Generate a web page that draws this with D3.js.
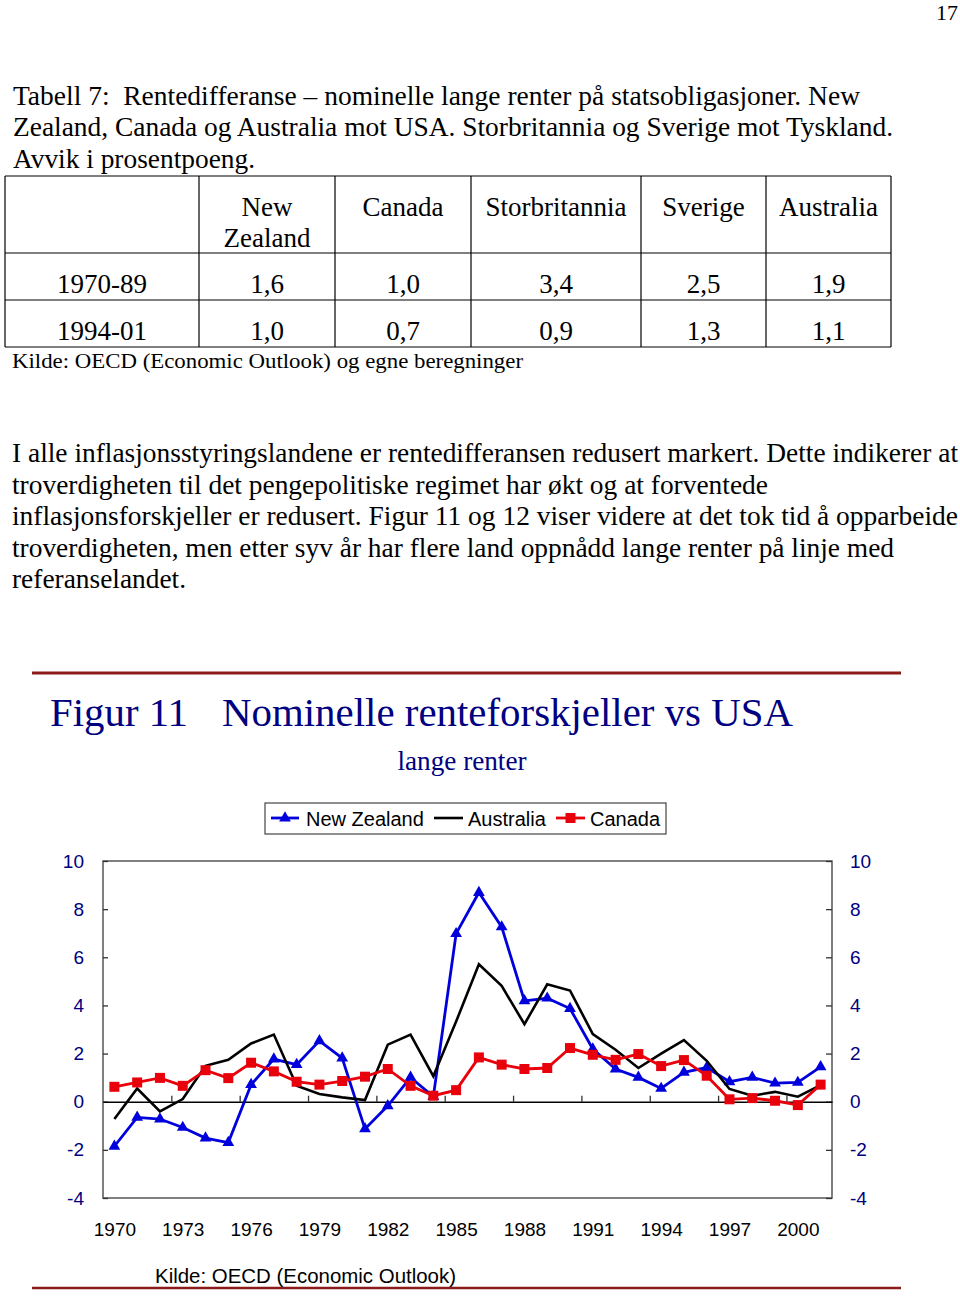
<!DOCTYPE html>
<html><head><meta charset="utf-8">
<script src="https://cdn.jsdelivr.net/npm/d3@7"></script>
<style>body{margin:0;background:#fff}svg{display:block;background:#fff}text{white-space:pre}</style>
</head><body><svg id="c" width="960" height="1296"></svg>
<script>
// ---------- data ----------
const years = [1970,1971,1972,1973,1974,1975,1976,1977,1978,1979,1980,1981,1982,1983,1984,1985,
               1986,1987,1988,1989,1990,1991,1992,1993,1994,1995,1996,1997,1998,1999,2000,2001];
const newZealand = [-1.85,-0.65,-0.72,-1.07,-1.51,-1.70,0.71,1.77,1.54,2.53,1.81,-1.13,-0.17,1.01,0.21,6.98,
                    8.69,7.26,4.19,4.30,3.87,2.19,1.36,1.01,0.55,1.22,1.42,0.83,1.01,0.77,0.80,1.45];
const australia  = [-0.72,0.55,-0.40,0.11,1.49,1.74,2.42,2.79,0.66,0.32,0.18,0.07,2.37,2.79,1.06,3.33,
                    5.71,4.81,3.22,4.88,4.62,2.81,2.16,1.40,2.00,2.56,1.70,0.53,0.25,0.41,0.21,0.69];
const canada     = [0.62,0.80,0.99,0.66,1.31,0.98,1.62,1.26,0.83,0.71,0.86,1.04,1.36,0.66,0.25,0.48,
                    1.84,1.54,1.36,1.40,2.23,1.95,1.74,1.98,1.48,1.73,1.08,0.10,0.15,0.04,-0.14,0.71];
const seriesNames = ["New Zealand","Australia","Canada"];
const yTicks = [-4,-2,0,2,4,6,8,10];
const xTickLabels = [1970,1973,1976,1979,1982,1985,1988,1991,1994,1997,2000];

const tableHeaders = [["New","Zealand"],["Canada"],["Storbritannia"],["Sverige"],["Australia"]];
const tablePeriods = ["1970-89","1994-01"];
const tableRow1 = ["1,6","1,0","3,4","2,5","1,9"];
const tableRow2 = ["1,0","0,7","0,9","1,3","1,1"];

// ---------- page ----------
const svg = d3.select("#c");
const serif = "'Liberation Serif','Times New Roman',serif";
const sans = "'Liberation Sans',Arial,sans-serif";

function txt(s, x, y, size, opts={}) {
  const t = svg.append("text").attr("x", x).attr("y", y).text(s)
    .attr("font-family", opts.family || serif).attr("font-size", size)
    .attr("fill", opts.fill || "#000")
    .attr("text-anchor", opts.anchor || "start");
  if (opts.len) t.attr("textLength", opts.len).attr("lengthAdjust", "spacingAndGlyphs");
  return t;
}

txt("17", 958, 20, 22, {anchor:"end"});
txt("Tabell 7:  Rentedifferanse \u2013 nominelle lange renter på statsobligasjoner. New", 13, 105, 27, {len:847});
txt("Zealand, Canada og Australia mot USA. Storbritannia og Sverige mot Tyskland.", 13, 136, 27, {len:880});
txt("Avvik i prosentpoeng.", 13, 168, 27, {len:242});

// table
const colEdges = [5,199,335,471,641,766,891];
const rowEdges = [176,253,300,347];
const tg = svg.append("g").attr("stroke","#000").attr("stroke-width",1.2);
colEdges.forEach(cx => tg.append("line").attr("x1",cx).attr("x2",cx).attr("y1",rowEdges[0]).attr("y2",rowEdges[3]));
rowEdges.forEach(ry => tg.append("line").attr("x1",colEdges[0]).attr("x2",colEdges[6]).attr("y1",ry).attr("y2",ry));
const colCenter = i => (colEdges[i] + colEdges[i+1]) / 2;
tableHeaders.forEach((h, i) => h.forEach((line, j) => txt(line, colCenter(i+1), 216 + j*31, 27, {anchor:"middle"})));
[tableRow1, tableRow2].forEach((row, r) => {
  const by = r === 0 ? 293 : 340;
  txt(tablePeriods[r], colCenter(0), by, 27, {anchor:"middle"});
  row.forEach((v, i) => txt(v, colCenter(i+1), by, 27, {anchor:"middle"}));
});
txt("Kilde: OECD (Economic Outlook) og egne beregninger", 12, 368, 22, {len:511});

// paragraph
const para = [
  ["I alle inflasjonsstyringslandene er rentedifferansen redusert markert. Dette indikerer at", 946],
  ["troverdigheten til det pengepolitiske regimet har økt og at forventede", 756],
  ["inflasjonsforskjeller er redusert. Figur 11 og 12 viser videre at det tok tid å opparbeide", 946],
  ["troverdigheten, men etter syv år har flere land oppnådd lange renter på linje med", 882],
  ["referanselandet.", 174]
];
para.forEach((p, i) => txt(p[0], 12, 462 + i*31.6, 27, {len:p[1]}));

// figure rules and titles
const ruleColor = "#8b1a1a";
svg.append("line").attr("x1",32).attr("x2",901).attr("y1",673).attr("y2",673).attr("stroke",ruleColor).attr("stroke-width",3);
svg.append("line").attr("x1",32).attr("x2",901).attr("y1",1288).attr("y2",1288).attr("stroke",ruleColor).attr("stroke-width",2.5);
const navy = "#000080";
txt("Figur 11", 50, 726, 40, {fill:navy, len:138});
txt("Nominelle renteforskjeller vs USA", 222, 726, 40, {fill:navy, len:571});
txt("lange renter", 462, 770, 27, {fill:navy, anchor:"middle", len:129});

// ---------- chart ----------
const L = 103, R = 832, T = 861, B = 1198;
const x = d3.scaleLinear().domain([years[0]-0.5, years[years.length-1]+0.5]).range([L, R]);
const y = d3.scaleLinear().domain([-4, 10]).range([B, T]);

svg.append("rect").attr("x",L).attr("y",T).attr("width",R-L).attr("height",B-T)
  .attr("fill","none").attr("stroke","#555").attr("stroke-width",1.5);

function styleAxis(g, color) {
  g.select(".domain").remove();
  g.selectAll(".tick line").attr("stroke","#333").attr("stroke-width",1.3);
  g.selectAll(".tick text").attr("fill",color).attr("font-family",sans).attr("font-size",19);
}
const plain = d => String(d);
svg.append("g").attr("transform",`translate(${L},0)`)
  .call(d3.axisLeft(y).tickValues(yTicks).tickFormat(plain).tickSizeInner(-5).tickSizeOuter(0).tickPadding(19))
  .call(g => styleAxis(g, navy));
svg.append("g").attr("transform",`translate(${R},0)`)
  .call(d3.axisRight(y).tickValues(yTicks).tickFormat(plain).tickSizeInner(-6).tickSizeOuter(0).tickPadding(18))
  .call(g => styleAxis(g, navy));
svg.append("g").attr("transform",`translate(0,${B})`)
  .call(d3.axisBottom(x).tickValues(xTickLabels).tickFormat(plain).tickSize(0).tickPadding(25))
  .call(g => styleAxis(g, "#000"));
// zero line with ticks at category boundaries
const zg = svg.append("g").attr("transform",`translate(0,${y(0)})`)
  .call(d3.axisBottom(x).tickValues(xTickLabels.slice(1).map(d => d - 0.5)).tickFormat("").tickSizeInner(-6).tickSizeOuter(0));
zg.select(".domain").attr("stroke","#000").attr("stroke-width",1.5);
zg.selectAll(".tick line").attr("stroke","#333").attr("stroke-width",1.3);

const series = [
  {name: seriesNames[0], values: newZealand, color: "#0000dd", width: 2.8, symbol: d3.symbolTriangle, size: 60},
  {name: seriesNames[1], values: australia,  color: "#000000", width: 2.6, symbol: null},
  {name: seriesNames[2], values: canada,     color: "#e8000b", width: 2.8, symbol: d3.symbolSquare, size: 100}
];
const line = d3.line().x(d => x(d[0])).y(d => y(d[1]));
series.forEach(s => {
  const pts = years.map((yr, i) => [yr, s.values[i]]);
  svg.append("path").datum(pts).attr("d", line).attr("fill","none")
    .attr("stroke", s.color).attr("stroke-width", s.width).attr("stroke-linejoin","miter");
  if (s.symbol) {
    svg.append("g").selectAll("path").data(pts).join("path")
      .attr("transform", d => `translate(${x(d[0])},${y(d[1])})`)
      .attr("d", d3.symbol(s.symbol, s.size)).attr("fill", s.color);
  }
});

// legend
const lg = svg.append("g");
lg.append("rect").attr("x",265).attr("y",803).attr("width",401).attr("height",31)
  .attr("fill","#fff").attr("stroke","#444").attr("stroke-width",1.2);
const legendX = [[271,299,306],[434,463,468],[556,585,590]];
series.forEach((s, i) => {
  const [a, b, tx] = legendX[i];
  lg.append("line").attr("x1",a).attr("x2",b).attr("y1",818).attr("y2",818)
    .attr("stroke",s.color).attr("stroke-width",s.width);
  if (s.symbol) lg.append("path").attr("transform",`translate(${(a+b)/2},818)`)
    .attr("d", d3.symbol(s.symbol, s.size)).attr("fill", s.color);
  lg.append("text").attr("x",tx).attr("y",826).text(s.name)
    .attr("font-family",sans).attr("font-size",20).attr("fill","#000");
});

txt("Kilde: OECD (Economic Outlook)", 155, 1283, 20, {family: sans, len:301});
</script>
</body></html>
